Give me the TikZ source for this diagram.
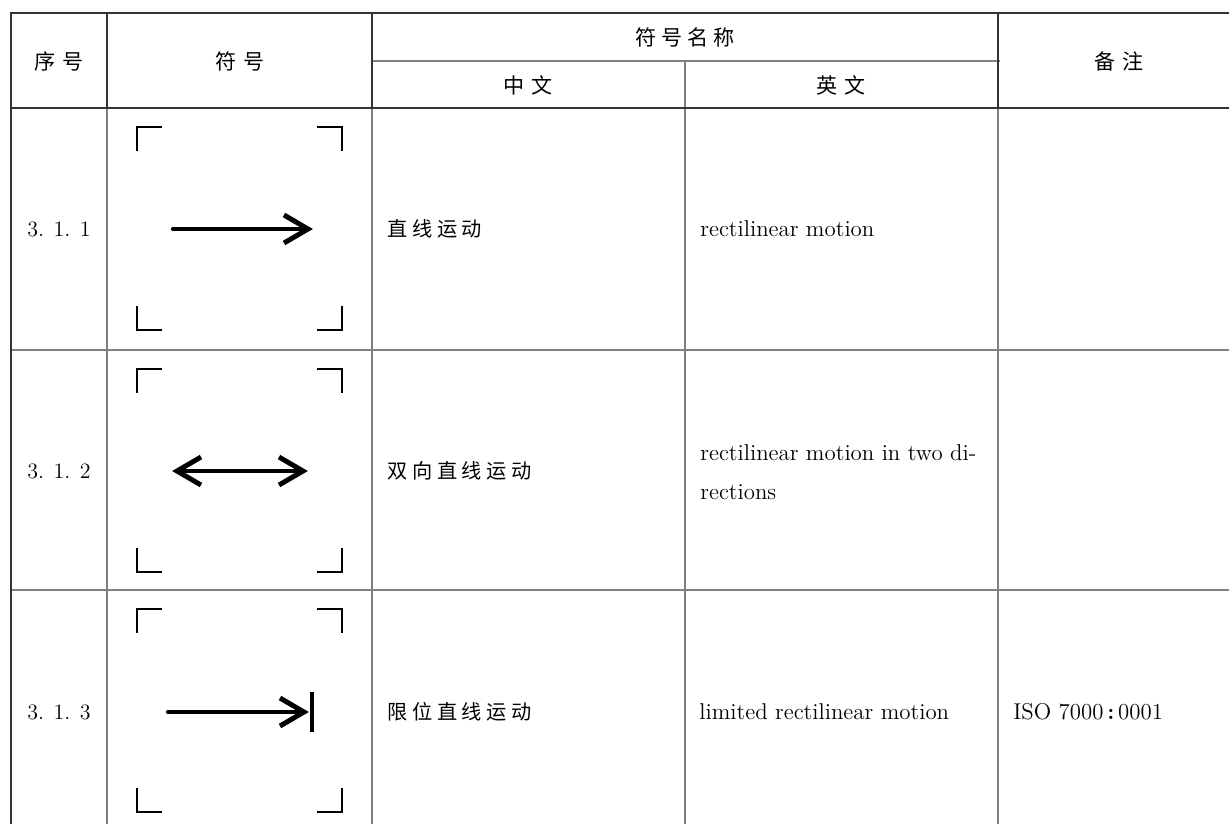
\documentclass[tikz,border=0pt]{standalone}
\usepackage{fontspec}
\newfontfamily\cjkhead{Noto Sans CJK SC}[LetterSpace=34]
\newfontfamily\cjktitle{Noto Sans CJK SC}[LetterSpace=22]
\newfontfamily\cjkbody{Noto Sans CJK SC}[LetterSpace=23]
\usepackage{tikz}
\usetikzlibrary{positioning, calc}

\begin{document}
\begin{tikzpicture}[
    x=0.02cm, y=-0.02cm,
    frame/.style={draw=black!80, line width=1.1pt},
    grid/.style={draw=black!50, line width=0.7pt},
    head/.style={font=\fontsize{12}{14}\selectfont\cjkhead, inner sep=0pt},
    zh/.style={font=\fontsize{11.5}{14}\selectfont\cjkbody, inner sep=0pt, anchor=west},
    en/.style={font=\fontsize{13}{22}\selectfont\addfontfeatures{LetterSpace=6.5}, inner sep=0pt, anchor=west, align=left},
    num/.style={font=\fontsize{12.5}{14}\selectfont, inner sep=0pt},
    corner/.style={line width=1.3pt, line cap=butt},
    shaft/.style={line width=2.4pt},
    barb/.style={line width=2.8pt, line join=miter, miter limit=10}
]
\useasboundingbox (0,0) rectangle (1229,823);
\clip (0,0) rectangle (1229,823);

% Table rules
\draw[grid] (372,61) -- (1000,61);
\draw[grid] (685,61) -- (685,830);
\draw[grid] (107,108) -- (107,830);
\draw[grid] (372,108) -- (372,830);
\draw[grid] (998,108) -- (998,830);
\draw[grid] (11,350) -- (1240,350);
\draw[grid] (11,590) -- (1240,590);
\draw[frame] (107,13) -- (107,108);
\draw[frame] (372,13) -- (372,108);
\draw[frame] (998,13) -- (998,108);
\draw[frame] (1240,13) -| (11,830);
\draw[frame] (11,108) -- (1240,108);

% Header
\node[head] (no) at (59,61) {序号};
\node[head] (sym) at (240,61) {符号};
\node[head, font=\fontsize{12}{14}\selectfont\cjktitle] (name) at (685,37) {符号名称};
\node[head] (zh) at (528,85) {中文};
\node[head] (en) at (841,85) {英文};
\node[head] (note) at (1119,61) {备注};

% Corner marks of each symbol field
\foreach \t in {108,350,590} {
    \draw[corner] (137,\t+43) -- (137,\t+19) -- (162,\t+19);
    \draw[corner] (317,\t+19) -- (342,\t+19) -- (342,\t+43);
    \draw[corner] (137,\t+198) -- (137,\t+222) -- (162,\t+222);
    \draw[corner] (317,\t+222) -- (342,\t+222) -- (342,\t+198);
}

% 3.1.1
\node[num] (no1) at (59,229) {3. 1. 1};
\coordinate (a1) at (173,229);
\coordinate (b1) at (308,229);
\draw[shaft, line cap=round] (a1) -- ($(b1)+(-4,0)$);
\draw[barb] ($(b1)+(-24,-14)$) -- (b1) -- ($(b1)+(-24,14)$);
\node[zh] (zh1) at (387,229) {直线运动};
\node[en] (en1) at (700,229) {rectilinear motion};

% 3.1.2
\node[num] (no2) at (59,471) {3. 1. 2};
\coordinate (a2) at (177,471);
\coordinate (b2) at (303,471);
\draw[shaft] ($(a2)+(4,0)$) -- ($(b2)+(-4,0)$);
\draw[barb] ($(a2)+(24,-14)$) -- (a2) -- ($(a2)+(24,14)$);
\draw[barb] ($(b2)+(-24,-14)$) -- (b2) -- ($(b2)+(-24,14)$);
\node[zh] (zh2) at (387,471) {双向直线运动};
\node[en] (en2) at (700,472) {rectilinear motion in two di-\\rections};

% 3.1.3
\node[num] (no3) at (59,712) {3. 1. 3};
\coordinate (a3) at (168,712);
\coordinate (b3) at (304,712);
\draw[shaft, line cap=round] (a3) -- ($(b3)+(-4,0)$);
\draw[barb] ($(b3)+(-24,-14)$) -- (b3) -- ($(b3)+(-24,14)$);
\draw[line width=2.3pt] (312,692) -- (312,732);
\node[zh] (zh3) at (387,712) {限位直线运动};
\node[en] (en3) at (699,712) {limited rectilinear motion};
\node[en] (note3) at (1013,712) {ISO 7000\,{\bfseries :}\,0001};

\end{tikzpicture}
\end{document}
